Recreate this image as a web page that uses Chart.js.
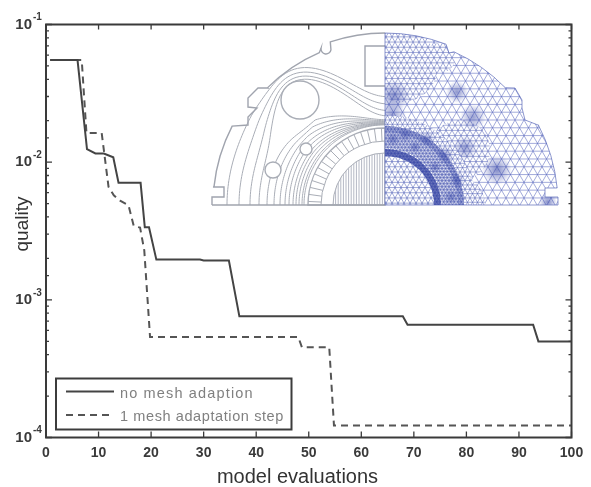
<!DOCTYPE html>
<html>
<head>
<meta charset="utf-8">
<script src="https://cdn.jsdelivr.net/npm/chart.js@4"></script>
<style>
html, body { margin: 0; padding: 0; background: #fff; }
#wrap { width: 591px; height: 487px; position: relative; }
#grafico { filter: blur(0.45px); }
</style>
</head>
<body>
<div id="wrap"><canvas id="grafico" width="591" height="487"></canvas></div>
<script>
var noAdaptX = [0.8, 6, 7.8, 9.4, 11, 12.8, 13.8, 18, 18.8, 19.6, 21, 29.3, 30, 34.8, 36.8, 67.9, 68.8, 92.7, 93.7, 100];
var noAdaptY = [0.0552, 0.0552, 0.01244, 0.01156, 0.01156, 0.01086, 0.00708, 0.00708, 0.00337, 0.00337, 0.00196, 0.00196, 0.00193, 0.00193, 0.000759, 0.000759, 0.00066, 0.00066, 0.000499, 0.000499];
var adaptX = [0.8, 6.8, 7.7, 10.6, 11.9, 12.9, 14.1, 15.7, 16.7, 17.9, 18.7, 19.8, 48, 48.7, 53.9, 54.8, 100];
var adaptY = [0.0552, 0.0552, 0.01626, 0.01626, 0.00661, 0.00575, 0.00525, 0.00487, 0.00343, 0.00335, 0.00229, 0.000537, 0.000537, 0.000452, 0.000452, 0.000122, 0.000122];
var xTicks = [0, 10, 20, 30, 40, 50, 60, 70, 80, 90, 100];
var yDecades = [1e-1, 1e-2, 1e-3, 1e-4];
var yExponents = ['-1', '-2', '-3', '-4'];
var seriesNames = ['no mesh adaption', '1 mesh adaptation step'];
var xTitle = 'model evaluations';
var yTitle = 'quality';

var INK = '#3a3a3a';
var FONT = '"Liberation Sans", Arial, sans-serif';

function toPoints(xs, ys) {
    return xs.map(function (x, i) { return { x: x, y: ys[i] }; });
}

function isDecade(v) {
    var l = Math.log10(v);
    return Math.abs(l - Math.round(l)) < 1e-6;
}

// ---- inset picture (motor cross section, not data) ----
var CX = 385, CY = 205;

function outlineLeft(ctx) {
    var p = [[212, 197], [224, 197], [224, 187], [213, 187]];
    ctx.moveTo(212, 205);
    p.forEach(function (q) { ctx.lineTo(q[0], q[1]); });
    ctx.arc(CX, CY, 172, Math.atan2(187 - CY, 213 - CX) + 2 * Math.PI, Math.atan2(125 - CY, 230 - CX) + 2 * Math.PI);
    [[248, 125], [248, 117], [257, 108], [248, 107], [248, 98], [258, 88], [268, 88]].forEach(function (q) { ctx.lineTo(q[0], q[1]); });
    ctx.arc(CX, CY, 166, Math.atan2(88 - CY, 268 - CX) + 2 * Math.PI, Math.atan2(54 - CY, 320 - CX) + 2 * Math.PI);
    ctx.arc(326, 49, 5, Math.PI * 1.05, Math.PI * 0.05, true);
    ctx.arc(CX, CY, 172, Math.atan2(47 - CY, 332 - CX) + 2 * Math.PI, Math.PI * 1.5);
}

function outlineRight(ctx) {
    ctx.moveTo(CX, CY);
    ctx.lineTo(CX, CY - 172);
    ctx.arc(CX, CY, 172, Math.PI * 1.5, Math.atan2(47 - CY, 445 - CX));
    ctx.lineTo(449, 53);
    ctx.arc(CX, CY, 168, Math.atan2(54 - CY, 453 - CX), Math.atan2(88 - CY, 505 - CX));
    [[515, 88], [522, 100], [522, 108], [525, 120], [538, 125]].forEach(function (q) { ctx.lineTo(q[0], q[1]); });
    ctx.arc(CX, CY, 173, Math.atan2(125 - CY, 538 - CX), Math.atan2(188 - CY, 557 - CX));
    [[545, 188], [545, 197], [558, 197], [558, 205]].forEach(function (q) { ctx.lineTo(q[0], q[1]); });
    ctx.closePath();
}

function contourRadius(R, phi) {
    var s = Math.min(1, phi * 1.55);
    s = s * s * (3 - 2 * s);
    var top = R >= 125 ? 88 + (R - 125) * 0.6 : 80 + (R - 80) * 0.14;
    var r = top + (R - top) * s;
    var g = Math.exp(-Math.pow((phi - 0.43) / 0.2, 2));
    if (R >= 125) r += Math.max(0, 154 + (R - 126) * 0.35 - r) * g;
    else if (R >= 100) r -= Math.max(0, r - 110 + (118 - R) * 0.5) * g;
    return r;
}

function drawLeftHalf(ctx) {
    var radii = [158, 146, 135, 126, 118, 111, 105, 100, 96, 92, 89, 86, 83, 81];
    ctx.save();
    ctx.strokeStyle = '#a9adb6';
    ctx.lineWidth = 1;
    radii.forEach(function (R) {
        ctx.beginPath();
        for (var i = 0; i <= 80; i++) {
            var phi = 1 - i / 80;
            var t = Math.PI / 2 + phi * Math.PI / 2;
            var r = contourRadius(R, phi);
            var x = CX + r * Math.cos(t), y = CY - r * Math.sin(t);
            if (i === 0) ctx.moveTo(x, y); else ctx.lineTo(x, y);
        }
        ctx.stroke();
    });

    // holes on top of the contour lines
    [[300, 100, 19], [306, 149, 6], [273, 170, 8]].forEach(function (c) {
        ctx.beginPath();
        ctx.arc(c[0], c[1], c[2], 0, 2 * Math.PI);
        ctx.fillStyle = '#fff';
        ctx.fill();
        ctx.lineWidth = 1.4;
        ctx.stroke();
    });

    // rotor
    ctx.lineWidth = 1;
    ctx.beginPath();
    ctx.arc(CX, CY, 77, Math.PI, Math.PI * 1.5);
    ctx.lineTo(CX, CY);
    ctx.closePath();
    ctx.fillStyle = '#fff';
    ctx.fill();
    ctx.lineWidth = 1.4;
    ctx.stroke();

    // radial bars between the air gap and the shaft
    ctx.lineWidth = 1;
    for (var a = 0; a <= 16; a++) {
        var t = Math.PI + (a + 0.5) / 17 * Math.PI / 2;
        ctx.beginPath();
        ctx.moveTo(CX + 64 * Math.cos(t), CY + 64 * Math.sin(t));
        ctx.lineTo(CX + 77 * Math.cos(t), CY + 77 * Math.sin(t));
        ctx.stroke();
    }
    ctx.beginPath();
    ctx.arc(CX, CY, 64, Math.PI, Math.PI * 1.5);
    ctx.stroke();
    // shaft with close vertical lines
    ctx.beginPath();
    ctx.arc(CX, CY, 52, Math.PI, Math.PI * 1.5);
    ctx.stroke();
    ctx.save();
    ctx.beginPath();
    ctx.arc(CX, CY, 52, Math.PI, Math.PI * 1.5);
    ctx.lineTo(CX, CY);
    ctx.closePath();
    ctx.clip();
    ctx.strokeStyle = '#b4b8c4';
    for (var x = CX - 52; x < CX; x += 2.6) {
        ctx.beginPath();
        ctx.moveTo(x, CY - 60);
        ctx.lineTo(x, CY);
        ctx.stroke();
    }
    ctx.restore();

    // outer edge and key slot
    ctx.strokeStyle = '#a0a4ae';
    ctx.lineWidth = 1.4;
    ctx.beginPath();
    outlineLeft(ctx);
    ctx.stroke();
    ctx.beginPath();
    ctx.moveTo(212, 205);
    ctx.lineTo(CX, 205);
    ctx.stroke();
    ctx.beginPath();
    ctx.moveTo(CX, 46);
    ctx.lineTo(365, 46);
    ctx.lineTo(365, 86);
    ctx.lineTo(CX, 86);
    ctx.stroke();
    ctx.restore();
}

// triangular mesh: three families of parallel lines
function lattice(ctx, s, style, width) {
    ctx.strokeStyle = style;
    ctx.lineWidth = width;
    var h = s * Math.sqrt(3) / 2;
    [0, Math.PI / 3, 2 * Math.PI / 3].forEach(function (a) {
        var c = Math.cos(a), d = Math.sin(a);
        ctx.beginPath();
        for (var k = -Math.ceil(260 / h); k <= Math.ceil(260 / h); k++) {
            var px = 470 - d * k * h, py = 120 + c * k * h;
            ctx.moveTo(px - c * 260, py - d * 260);
            ctx.lineTo(px + c * 260, py + d * 260);
        }
        ctx.stroke();
    });
}

function meshPatch(ctx, x, y, r, s, style, width) {
    ctx.save();
    ctx.beginPath();
    ctx.arc(x, y, r, 0, 2 * Math.PI);
    ctx.clip();
    ctx.fillStyle = '#fff';
    ctx.fill();
    lattice(ctx, s, style, width);
    ctx.restore();
}

// soft dark spot where the mesh is too fine to see
function softSpot(ctx, x, y, r, alpha) {
    var g = ctx.createRadialGradient(x, y, 0, x, y, r);
    g.addColorStop(0, 'rgba(50,65,165,' + alpha + ')');
    g.addColorStop(1, 'rgba(50,65,165,0)');
    ctx.fillStyle = g;
    ctx.beginPath();
    ctx.arc(x, y, r, 0, 2 * Math.PI);
    ctx.fill();
}

function band(ctx, r0, r1, style) {
    ctx.beginPath();
    ctx.arc(CX, CY, r1, 0, 2 * Math.PI);
    ctx.arc(CX, CY, r0, 0, 2 * Math.PI, true);
    ctx.fillStyle = style;
    ctx.fill();
}

var statorSpots = [[60, -50, 9], [42, -66, 8], [20, -70, 7], [72, -25, 8], [66, -8, 7], [30, -58, 6], [8, -66, 7], [50, -38, 6]];
var outerSpots = [[457, 92, 11, 0.55], [473, 117, 13, 0.5], [497, 170, 15, 0.6], [465, 148, 12, 0.5], [394, 96, 16, 0.55], [392, 115, 14, 0.5], [548, 202, 9, 0.6]];

function drawRightHalf(ctx) {
    ctx.save();
    ctx.beginPath();
    outlineRight(ctx);
    ctx.clip();
    lattice(ctx, 9, 'rgba(90,105,190,0.7)', 0.8);

    var fine = 'rgba(85,100,185,0.68)';
    meshPatch(ctx, 402, 66, 36, 6, fine, 0.8);
    meshPatch(ctx, 440, 58, 15, 6, fine, 0.8);
    meshPatch(ctx, 460, 150, 30, 6, fine, 0.8);
    meshPatch(ctx, 455, 205, 30, 5, fine, 0.8);
    outerSpots.forEach(function (b) { softSpot(ctx, b[0], b[1], b[2], b[3]); });

    // stator ring, dense around rotor
    meshPatch(ctx, CX, CY, 90, 5, fine, 0.8);
    meshPatch(ctx, CX, CY, 79, 3.5, 'rgba(75,90,180,0.65)', 0.8);
    band(ctx, 57, 79, 'rgba(60,75,170,0.22)');
    statorSpots.forEach(function (b) { softSpot(ctx, CX + b[0], CY + b[1], b[2], 0.5); });
    band(ctx, 73, 79, 'rgba(50,65,165,0.3)');
    band(ctx, 49, 56, 'rgba(45,60,160,0.72)');
    meshPatch(ctx, CX, CY, 49, 6, 'rgba(85,100,185,0.7)', 0.8);
    ctx.restore();

    ctx.save();
    ctx.strokeStyle = 'rgba(80,95,180,0.65)';
    ctx.lineWidth = 1;
    ctx.beginPath();
    outlineRight(ctx);
    ctx.stroke();
    ctx.restore();
}

var frameAndInset = {
    id: 'frameAndInset',
    beforeDatasetsDraw: function (chart) {
        var ctx = chart.ctx;
        drawLeftHalf(ctx);
        drawRightHalf(ctx);
    },
    afterDatasetsDraw: function (chart) {
        var ctx = chart.ctx, xs = chart.scales.x, ys = chart.scales.y;
        var a = chart.chartArea;
        ctx.save();
        ctx.strokeStyle = INK;

        // ticks on all four sides, pointing in
        ctx.lineWidth = 1.3;
        xTicks.forEach(function (v) {
            var px = xs.getPixelForValue(v);
            ctx.beginPath();
            ctx.moveTo(px, a.bottom); ctx.lineTo(px, a.bottom - 6);
            ctx.moveTo(px, a.top); ctx.lineTo(px, a.top + 5);
            ctx.stroke();
        });
        ys.ticks.forEach(function (t) {
            var py = ys.getPixelForValue(t.value);
            var len = isDecade(t.value) ? 6 : 3;
            ctx.beginPath();
            ctx.moveTo(a.left, py); ctx.lineTo(a.left + len, py);
            ctx.moveTo(a.right, py); ctx.lineTo(a.right - len, py);
            ctx.stroke();
        });

        ctx.lineWidth = 2;
        ctx.strokeRect(a.left, a.top, a.right - a.left, a.bottom - a.top);

        // exponents of the decade labels
        ctx.fillStyle = INK;
        ctx.font = 'bold 10px ' + FONT;
        ctx.textAlign = 'left';
        ctx.textBaseline = 'middle';
        yDecades.forEach(function (v, i) {
            ctx.fillText(yExponents[i], 33, ys.getPixelForValue(v) - 7);
        });

        // axis titles, off centre in the reference
        ctx.fillStyle = '#333333';
        ctx.font = '20px ' + FONT;
        ctx.textAlign = 'center';
        ctx.fillText(xTitle, 297.5, 477);
        ctx.save();
        ctx.translate(23, 224);
        ctx.rotate(-Math.PI / 2);
        ctx.font = '19px ' + FONT;
        ctx.fillText(yTitle, 0, 0);
        ctx.restore();

        // legend
        ctx.strokeStyle = '#3c3c3c';
        ctx.lineWidth = 2;
        ctx.fillStyle = '#fff';
        ctx.fillRect(56, 378.5, 235.5, 51);
        ctx.strokeRect(56, 378.5, 235.5, 51);

        ctx.textAlign = 'left';
        ctx.font = '14.5px ' + FONT;
        ctx.fillStyle = '#808080';
        chart.data.datasets.forEach(function (ds, i) {
            var ly = i === 0 ? 391.5 : 415;
            ctx.strokeStyle = ds.borderColor;
            ctx.lineWidth = ds.borderWidth;
            ctx.setLineDash(ds.borderDash || []);
            ctx.beginPath();
            ctx.moveTo(66, ly);
            ctx.lineTo(114, ly);
            ctx.stroke();
            ctx.setLineDash([]);
            ctx.letterSpacing = i === 0 ? '1.15px' : '0.6px';
            ctx.fillText(ds.label, 120, i === 0 ? 394 : 417);
        });
        ctx.restore();
    }
};

var chart = new Chart(document.getElementById('grafico').getContext('2d'), {
    type: 'line',
    data: {
        datasets: [{
            label: seriesNames[0],
            data: toPoints(noAdaptX, noAdaptY),
            borderColor: '#444444',
            borderWidth: 2,
            pointRadius: 0,
            tension: 0,
            fill: false
        }, {
            label: seriesNames[1],
            data: toPoints(adaptX, adaptY),
            borderColor: '#555555',
            borderWidth: 2,
            borderDash: [7, 5],
            pointRadius: 0,
            tension: 0,
            fill: false
        }]
    },
    plugins: [frameAndInset],
    options: {
        responsive: false,
        animation: false,
        layout: { padding: { top: 24.5, right: 19.5, left: 0, bottom: 0 } },
        plugins: { legend: { display: false }, tooltip: { enabled: false } },
        scales: {
            x: {
                type: 'linear',
                min: 0,
                max: 100,
                afterBuildTicks: function (scale) {
                    scale.ticks = xTicks.map(function (v) { return { value: v }; });
                },
                afterFit: function (scale) { scale.height = 49.5; },
                grid: { display: false, drawTicks: false },
                border: { display: false },
                ticks: {
                    autoSkip: false,
                    maxRotation: 0,
                    padding: 7,
                    color: INK,
                    font: { family: FONT, size: 14, weight: 'bold' }
                }
            },
            y: {
                type: 'logarithmic',
                min: 1e-4,
                max: 1e-1,
                afterFit: function (scale) { scale.width = 46; },
                grid: { display: false, drawTicks: false },
                border: { display: false },
                ticks: {
                    autoSkip: false,
                    padding: 14,
                    color: INK,
                    font: { family: FONT, size: 15, weight: 'bold' },
                    callback: function (v) { return isDecade(v) ? '10' : ''; }
                }
            }
        }
    }
});
</script>
</body>
</html>
